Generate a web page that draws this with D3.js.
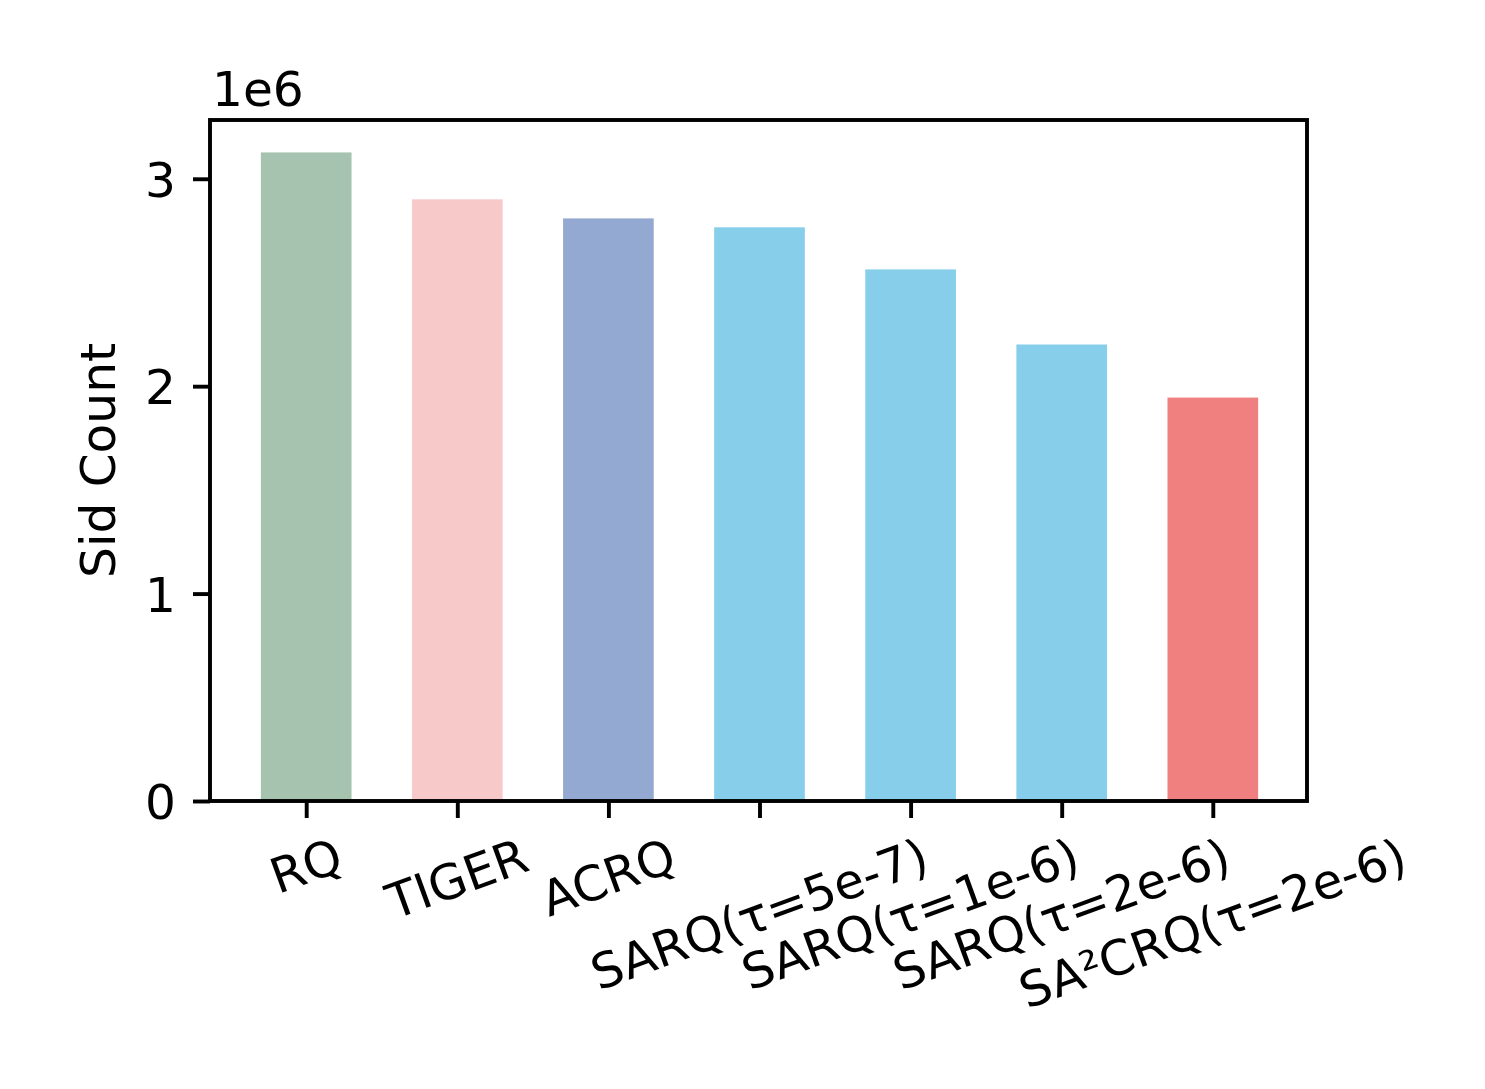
<!DOCTYPE html>
<html><head><meta charset="utf-8">
<script src="https://cdn.jsdelivr.net/npm/d3@7"></script>
<style>body{margin:0;background:#fff}svg{display:block}text{font-family:"DejaVu Sans";fill:#000}</style>
</head><body>
<script>
const categories = ["RQ","TIGER","ACRQ","SARQ(τ=5e-7)","SARQ(τ=1e-6)","SARQ(τ=2e-6)","SA²CRQ(τ=2e-6)"];
const values = [3.127e6, 2.901e6, 2.809e6, 2.766e6, 2.563e6, 2.201e6, 1.945e6];
const colors = ["#a6c3af","#f7c9c9","#94a9d1","#87ceeb","#87ceeb","#87ceeb","#f08080"];
const yTicks = [0, 1e6, 2e6, 3e6];
const yTickLabels = ["0","1","2","3"];
const yLabel = "Sid Count";
const offsetText = "1e6";

(function(){
const W = 1485, H = 1089;
const L = 210, R = 1307, T = 120, B = 801;
const fs = 48.6, tickLen = 17, pad = 17, lw = 3.9;
const svg = d3.select("body").append("svg").attr("width", W).attr("height", H);

const n = categories.length, bw = 0.6;
const xlo = -bw/2, xhi = n-1+bw/2, xm = (xhi-xlo)*0.05;
const x = d3.scaleLinear().domain([xlo-xm, xhi+xm]).range([L+1, R+1]);
const y = d3.scaleLinear().domain([0, d3.max(values)*1.05]).range([B, T]);

svg.selectAll("rect.bar").data(values).join("rect").attr("class","bar")
  .attr("x", (d,i)=>x(i-bw/2)).attr("width", (d,i)=>x(i+bw/2)-x(i-bw/2))
  .attr("y", d=>y(d)).attr("height", d=>y(0)-y(d))
  .attr("fill", (d,i)=>colors[i]);

const ya = svg.append("g").attr("transform", `translate(${L},0)`)
  .call(d3.axisLeft(y).tickValues(yTicks).tickFormat((d,i)=>yTickLabels[i]).tickSize(tickLen).tickPadding(pad));
ya.select(".domain").remove();
ya.selectAll(".tick line").attr("stroke","#000").attr("stroke-width",lw);
ya.selectAll(".tick text").attr("font-size",fs).attr("font-family","DejaVu Sans").attr("fill","#000").attr("dy","0.36em");

const xa = svg.append("g").attr("transform", `translate(0,${B})`)
  .call(d3.axisBottom(x).tickValues(d3.range(n)).tickFormat("").tickSize(tickLen));
xa.select(".domain").remove();
xa.selectAll(".tick line").attr("stroke","#000").attr("stroke-width",lw);

const ang = 20*Math.PI/180;
const labelTop = B + tickLen + pad;
categories.forEach((c,i)=>{
  const g = svg.append("g");
  const t = g.append("text").attr("font-size",fs).attr("text-anchor","middle").text(c);
  const w = t.node().getComputedTextLength();
  const h = 0.97*fs;
  const Hb = w*Math.sin(ang) + h*Math.cos(ang);
  const cy = labelTop + Hb/2;
  g.attr("transform", `translate(${x(i)+1},${cy}) rotate(-20)`);
  t.attr("y", (h/2 - 0.21*fs));
});

svg.append("rect").attr("x",L).attr("y",T).attr("width",R-L).attr("height",B-T)
  .attr("fill","none").attr("stroke","#000").attr("stroke-width",lw);

svg.append("text").attr("x",L+2).attr("y",106).attr("font-size",fs).text(offsetText);

svg.append("text").attr("transform",`translate(115,${(T+B)/2}) rotate(-90)`)
  .attr("text-anchor","middle").attr("font-size",fs).text(yLabel);
})();
</script>
</body></html>
